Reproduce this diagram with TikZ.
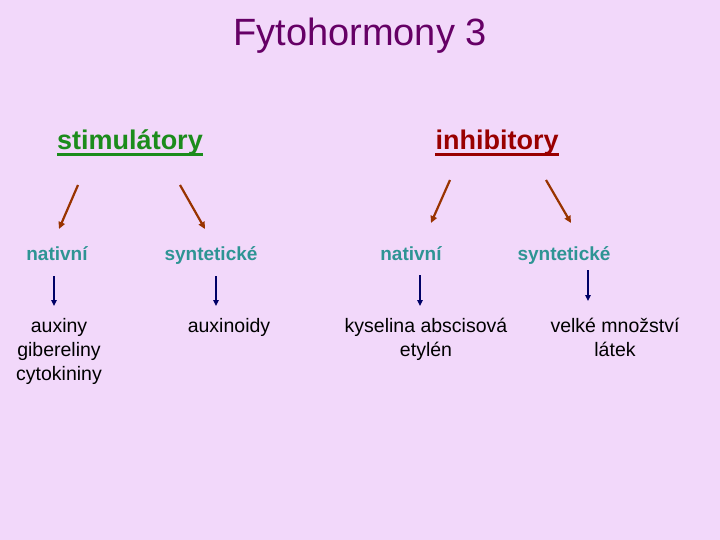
\documentclass[tikz,border=0pt]{standalone}
\usepackage{fontspec}
\setmainfont{Liberation Sans}
\usetikzlibrary{arrows.meta}
\definecolor{bg}{HTML}{F2D8FA}
\definecolor{titlec}{HTML}{660066}
\definecolor{stimc}{HTML}{1C8C1C}
\definecolor{inhc}{HTML}{990000}
\definecolor{subc}{HTML}{2E9494}
\definecolor{brownc}{HTML}{993300}
\definecolor{navyc}{HTML}{000066}
\newcommand{\stackt}[1]{\begin{tabular}[t]{@{}c@{}}#1\end{tabular}}
\tikzset{
  head/.style={font=\bfseries\fontsize{27}{32}\selectfont, inner sep=0pt, anchor=base},
  sub/.style={font=\bfseries\fontsize{19}{23}\selectfont, text=subc, inner sep=0pt, anchor=base},
  item/.style={font=\fontsize{19.5}{24}\selectfont, inner sep=0pt, anchor=base},
  brownarrow/.style={draw=brownc, line width=2.2pt, -{Triangle[length=7pt,width=6.5pt]}},
  navyarrow/.style={draw=navyc, line width=1.4pt, -{Triangle[length=6pt,width=5.5pt]}}
}
\begin{document}
\begin{tikzpicture}[x=1pt,y=-1pt]
\fill[bg] (0,0) rectangle (720,540);
\useasboundingbox (0,0) rectangle (720,540);
\node[font=\fontsize{38}{44}\selectfont, text=titlec, inner sep=0pt, anchor=base] (title) at (360,46) {Fytohormony 3};
\node[head, text=stimc] (stim) at (130,150) {stimulátory};
\node[head, text=inhc] (inh) at (497,150) {inhibitory};
\draw[stimc, line width=2.5pt] ([yshift=-4.5pt]stim.base west) -- ([yshift=-4.5pt]stim.base east);
\draw[inhc, line width=2.5pt] ([yshift=-4.5pt]inh.base west) -- ([yshift=-4.5pt]inh.base east);
\node[sub] (n1) at (57,260) {nativní};
\node[sub] (s1) at (211,260) {syntetické};
\node[sub] (n2) at (411,260) {nativní};
\node[sub] (s2) at (564,260) {syntetické};
\node[item] (i1) at (59,332) {\stackt{auxiny\\gibereliny\\cytokininy}};
\node[item] (i2) at (229,332) {auxinoidy};
\node[item] (i3) at (426,332) {\stackt{kyselina abscisová\\etylén}};
\node[item] (i4) at (615,332) {\stackt{velké množství\\látek}};
% brown arrows
\coordinate (b1s) at (78,185); \coordinate (b1e) at (59,229);
\coordinate (b2s) at (180,185); \coordinate (b2e) at (205,229);
\coordinate (b3s) at (450,180); \coordinate (b3e) at (431,223);
\coordinate (b4s) at (546,180); \coordinate (b4e) at (571,223);
\draw[brownarrow] (b1s) -- (b1e);
\draw[brownarrow] (b2s) -- (b2e);
\draw[brownarrow] (b3s) -- (b3e);
\draw[brownarrow] (b4s) -- (b4e);
% navy arrows
\coordinate (v1s) at (54,276); \coordinate (v1e) at (54,306);
\coordinate (v2s) at (216,276); \coordinate (v2e) at (216,306);
\coordinate (v3s) at (420,275); \coordinate (v3e) at (420,306);
\coordinate (v4s) at (588,270); \coordinate (v4e) at (588,301);
\draw[navyarrow] (v1s) -- (v1e);
\draw[navyarrow] (v2s) -- (v2e);
\draw[navyarrow] (v3s) -- (v3e);
\draw[navyarrow] (v4s) -- (v4e);
\end{tikzpicture}
\end{document}
